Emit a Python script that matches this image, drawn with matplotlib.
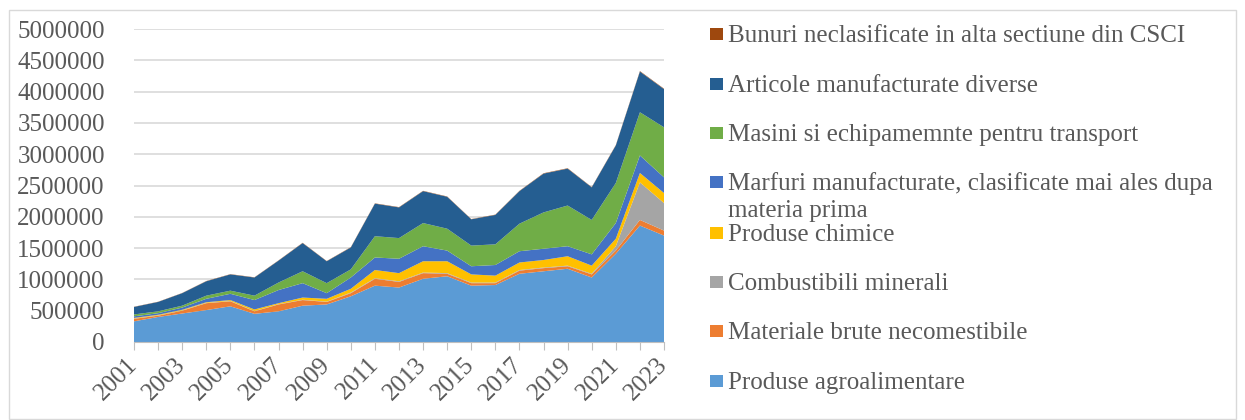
import numpy as np
import matplotlib.pyplot as plt
from matplotlib.patches import Rectangle
from matplotlib.ticker import FuncFormatter, MultipleLocator

years = np.arange(2001, 2024)

# values in thousands
agro = [330, 400, 455, 510, 570, 450, 490, 580, 600, 730, 900, 870,
        1010, 1050, 900, 910, 1090, 1130, 1170, 1030, 1410, 1860, 1700]
brute = [40, 20, 45, 110, 80, 40, 110, 90, 40, 50, 110, 90,
         90, 40, 40, 30, 50, 50, 40, 50, 50, 90, 80]
combust = [5, 5, 5, 5, 5, 5, 5, 5, 5, 10, 10, 10,
           10, 10, 10, 10, 10, 10, 10, 10, 70, 600, 440]
chimice = [10, 10, 10, 10, 15, 25, 15, 35, 45, 60, 130, 130,
           180, 190, 130, 110, 120, 120, 150, 130, 120, 150, 160]
marfuri = [25, 25, 35, 55, 100, 150, 210, 230, 90, 180, 200, 230,
           240, 170, 130, 170, 180, 180, 160, 180, 250, 280, 250]
masini = [30, 30, 30, 50, 50, 70, 120, 190, 160, 130, 340, 330,
          370, 350, 330, 330, 440, 580, 650, 550, 640, 690, 800]
articole = [120, 150, 200, 230, 260, 290, 350, 450, 350, 350, 520, 490,
            510, 510, 420, 470, 520, 620, 590, 520, 600, 650, 610]
bunuri = [3, 3, 3, 4, 4, 4, 4, 5, 4, 5, 5, 5,
          5, 5, 4, 5, 5, 6, 6, 5, 6, 8, 7]

labels = ['Produse agroalimentare', 'Materiale brute necomestibile',
          'Combustibili minerali', 'Produse chimice',
          'Marfuri manufacturate, clasificate mai ales dupa\nmateria prima',
          'Masini si echipamemnte pentru transport',
          'Articole manufacturate diverse',
          'Bunuri neclasificate in alta sectiune din CSCI']
colors = ['#5B9BD5', '#ED7D31', '#A5A5A5', '#FFC000', '#4472C4',
          '#70AD47', '#255E91', '#9E480E']

series = [agro, brute, combust, chimice, marfuri, masini, articole, bunuri]
series = [np.array(s) * 1000 for s in series]

W, H = 1245, 420
plt.rcParams['font.family'] = 'Liberation Serif'
txt_color = '#595959'
fs = 18

fig = plt.figure(figsize=(W / 100, H / 100), dpi=100)
ax = fig.add_axes([134 / W, 1 - 342 / H, (664 - 134) / W, (342 - 29) / H])

ax.stackplot(years, series, colors=colors, linewidth=0)

ax.set_xlim(2001, 2023)
ax.set_ylim(0, 5000000)
ax.yaxis.set_major_locator(MultipleLocator(500000))
ax.yaxis.set_major_formatter(FuncFormatter(lambda v, p: f'{int(v)}'))
ax.grid(axis='y', color='#D9D9D9', linewidth=1.2)
ax.set_axisbelow(True)

ax.set_xticks(years)
ax.set_xticklabels([str(y) if y % 2 == 1 else '' for y in years],
                   rotation=45, ha='right', va='center', rotation_mode='anchor')
ax.tick_params(axis='x', length=6, color='#BFBFBF', labelsize=fs,
               labelcolor=txt_color, pad=8)
ax.tick_params(axis='y', length=0, labelsize=fs, labelcolor=txt_color, pad=21)

for s in ['top', 'right', 'left']:
    ax.spines[s].set_visible(False)
ax.spines['bottom'].set_color('#BFBFBF')

# legend, top entry first
row_y = [34, 84, 133, 182, 233, 282, 331, 381]
for i, (lab, col) in enumerate(zip(labels[::-1], colors[::-1])):
    y = row_y[i]
    fig.patches.append(Rectangle((710 / W, 1 - (y + 6.3) / H), 12.6 / W, 12.6 / H,
                                 transform=fig.transFigure, facecolor=col,
                                 edgecolor='none'))
    for k, line in enumerate(lab.split('\n')):
        fig.text(728 / W, 1 - (y + 8 + 27 * k) / H, line, fontsize=fs,
                 color=txt_color, va='baseline', ha='left')

# chart border
fig.patches.append(Rectangle((9 / W, 1 - 419 / H), 1227 / W, 409 / H,
                             transform=fig.transFigure, facecolor='none',
                             edgecolor='#D9D9D9', linewidth=1))

plt.savefig('out.png', dpi=100)
